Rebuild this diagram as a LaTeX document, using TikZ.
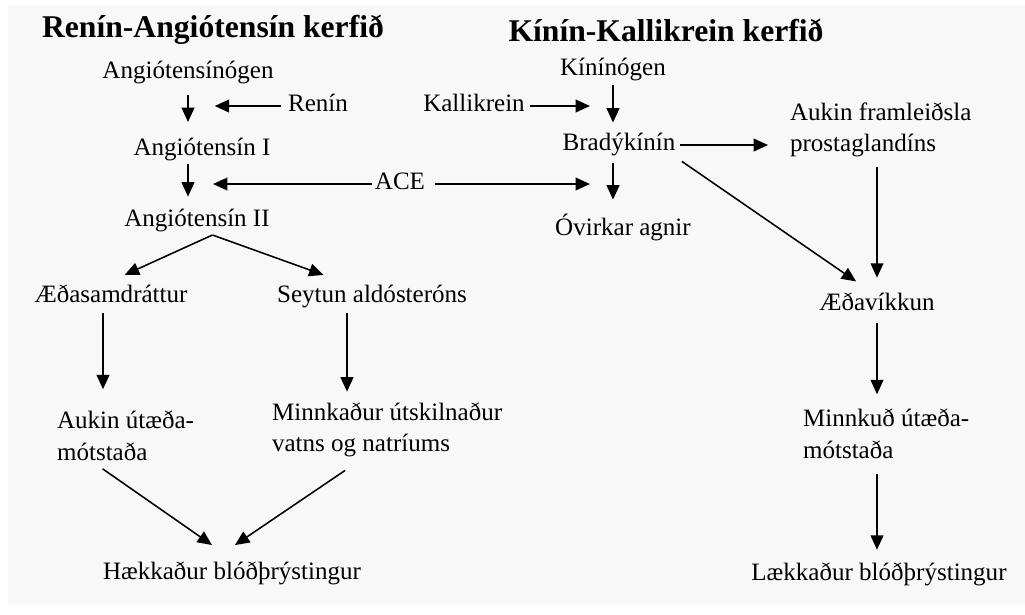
\documentclass[tikz,border=0pt]{standalone}
\usepackage{fontspec}
\setmainfont{Liberation Serif}
\usetikzlibrary{arrows.meta, calc}

\definecolor{pagegray}{RGB}{248,248,248}

\begin{document}
\begin{tikzpicture}[
    x=0.025cm, y=-0.025cm,
    heading/.style={font=\fontsize{22.5}{27}\selectfont\bfseries, inner sep=2pt},
    term/.style={font=\fontsize{17.8}{22.4}\selectfont, text height=12pt, text depth=3.5pt, inner sep=2pt},
    twoline/.style={font=\fontsize{17.8}{22.4}\selectfont, align=left, anchor=west, inner sep=2pt},
    arr/.style={-{Triangle[length=3.6mm, width=3.2mm]}, line width=1.1pt}
]

\useasboundingbox (0,0) rectangle (1025,614);
\fill[pagegray] (8,5) rectangle (1025,605);

% Headings
\node[heading] (titleras) at (213,30) {Renín-Angiótensín kerfið};
\node[heading] (titlekks) at (666,30) {Kínín-Kallikrein kerfið};

% Renin-Angiotensin chain
\node[term] (agen) at (188,73) {Angiótensínógen};
\node[term] (renin) at (318,106) {Renín};
\node[term] (ang1) at (202,150) {Angiótensín I};
\node[term] (ace) at (400,184) {ACE};
\node[term] (ang2) at (197,221) {Angiótensín II};
\node[term] (aed) at (111,297) {Æðasamdráttur};
\node[term] (sey) at (372,297) {Seytun aldósteróns};
\node[twoline] (aut) at (54,436) {Aukin útæða-\\mótstaða};
\node[twoline] (minnk) at (269,430) {Minnkaður útskilnaður\\vatns og natríums};
\node[term] (haek) at (232,574) {Hækkaður blóðþrýstingur};

% Kinin-Kallikrein chain
\node[term] (kin) at (613,70) {Kínínógen};
\node[term] (kal) at (474,106) {Kallikrein};
\node[term] (brad) at (619,145) {Bradýkínín};
\node[term] (ovirk) at (623,230) {Óvirkar agnir};
\node[twoline] (prost) at (787,130) {Aukin framleiðsla\\prostaglandíns};
\node[term] (aedv) at (877,305) {Æðavíkkun};
\node[twoline] (minnkd) at (800,434) {Minnkuð útæða-\\mótstaða};
\node[term] (laek) at (879,575) {Lækkaður blóðþrýstingur};

% Arrows, left side
\draw[arr, shorten <=6pt, shorten >=10pt] (agen.south) -- (agen.south |- ang1.north);
\draw[arr, shorten <=3pt, shorten >=19pt] (renin.west) -- (renin.west -| agen.south);
\draw[arr, shorten >=7.4pt] (agen.south |- ang1.south) -- (agen.south |- ang2.north);
\draw[arr, shorten >=17.8pt] (ace.west) -- (ace.west -| agen.south);
\draw[arr, shorten >=14pt] ([xshift=11pt]ang2.south) -- ([xshift=-3pt]aed.north);
\draw[arr, shorten >=17pt] ([xshift=11pt]ang2.south) -- ([xshift=-18.5pt]sey.north);
\draw[arr, shorten <=1.7pt, shorten >=13.5pt] ($(aed.south)+(-8,0)$) -- ($(aed.south |- aut.north)+(-8,0)$);
\draw[arr, shorten <=1.7pt, shorten >=5.7pt] ($(sey.south)+(-25,0)$) -- ($(sey.south |- minnk.north)+(-25,0)$);
\draw[arr] ($(aut.south)+(-23,5)$) -- ($(haek.north)+(-20,-15)$);
\draw[arr] ($(minnk.south)+(-42,10)$) -- ($(haek.north)+(3,-15)$);

% Arrows, right side
\draw[arr, shorten <=5pt, shorten >=16.4pt] (ace.east) -- (ace.east -| kin.south);
\draw[arr, shorten <=1.4pt, shorten >=16.4pt] (kal.east) -- (kal.east -| kin.south);
\draw[arr, shorten <=1pt, shorten >=6pt] (kin.south) -- (kin.south |- brad.north);
\draw[arr, shorten <=3pt, shorten >=11.7pt] (kin.south |- brad.south) -- (kin.south |- ovirk.north);
\draw[arr, shorten <=1.4pt, shorten >=13.5pt] (brad.east) -- (brad.east -| prost.west);
\draw[arr, shorten <=3pt, shorten >=12pt] (brad.south east) -- ([xshift=-5pt]aedv.north);
\draw[arr, shorten <=5pt, shorten >=9.5pt] (aedv.north |- prost.south) -- (aedv.north);
\draw[arr, shorten <=3pt, shorten >=8.5pt] (aedv.south) -- (aedv.south |- minnkd.north);
\draw[arr, shorten <=8.5pt, shorten >=8pt] (aedv.south |- minnkd.south) -- (aedv.south |- laek.north);

\end{tikzpicture}
\end{document}
